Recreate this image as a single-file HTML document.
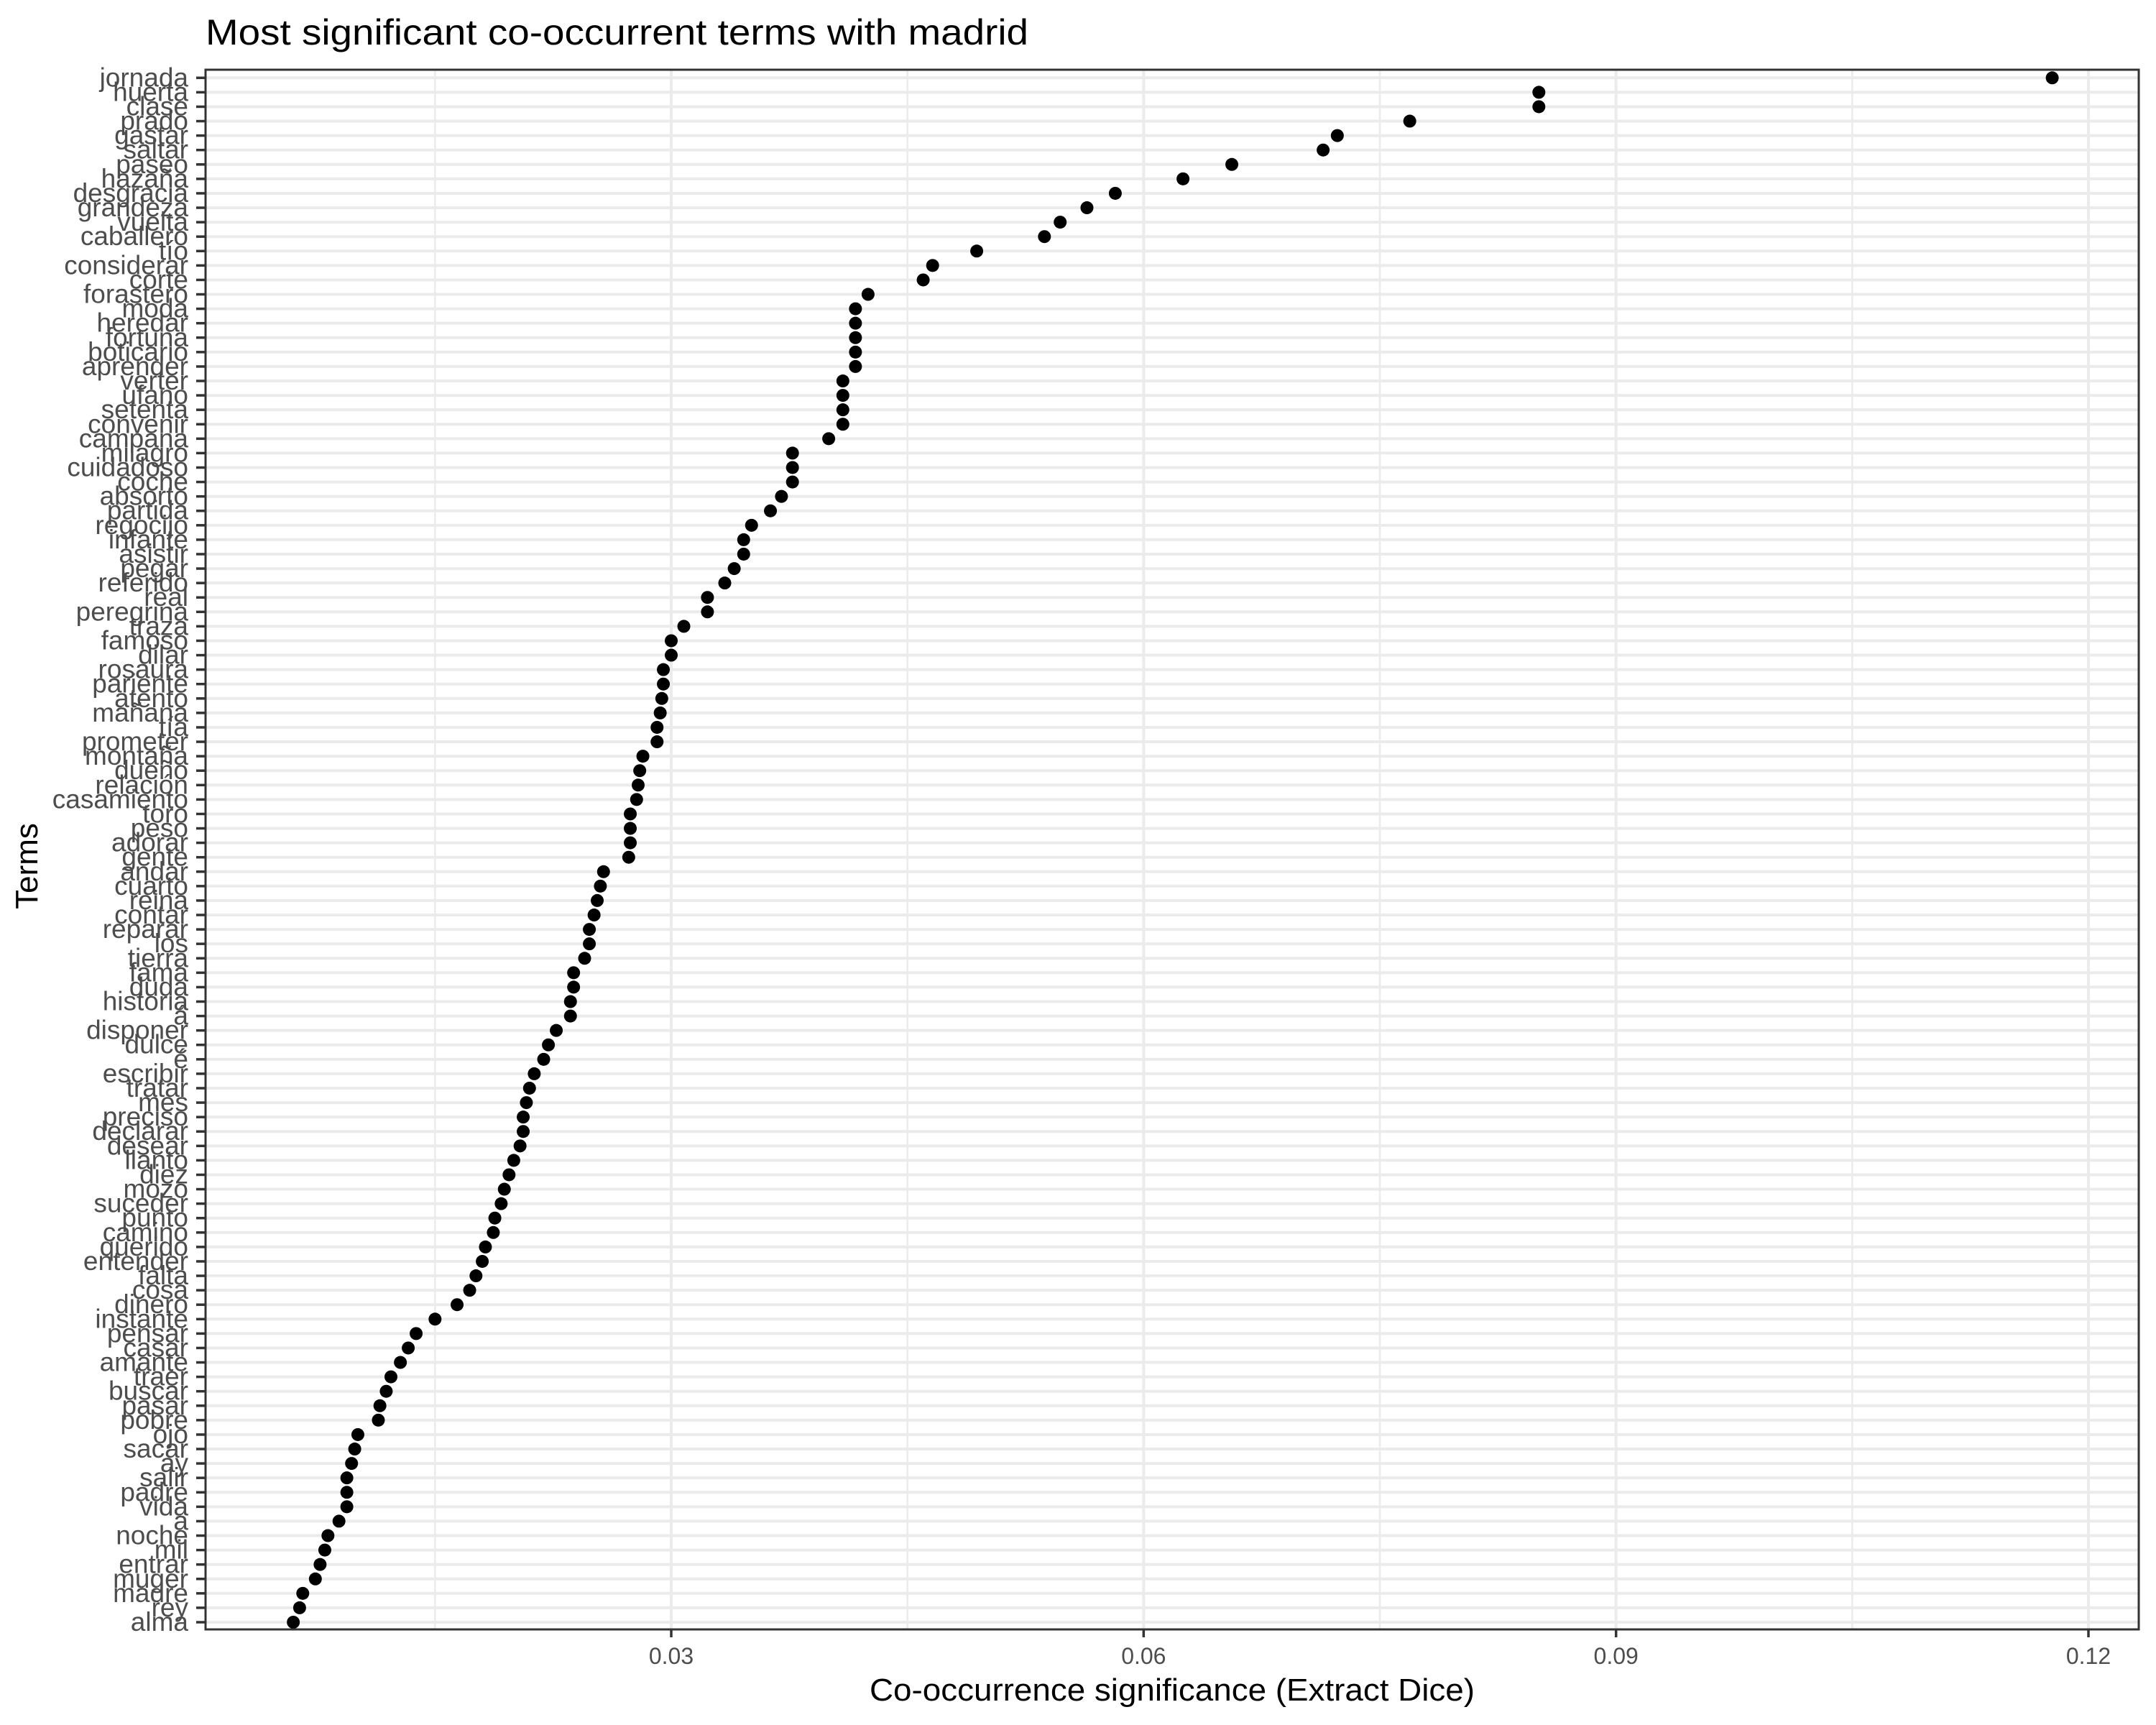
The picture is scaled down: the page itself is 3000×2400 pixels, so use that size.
<!DOCTYPE html>
<html><head><meta charset="utf-8"><style>
html,body{margin:0;padding:0;background:#fff;}
svg{display:block;font-family:"Liberation Sans",Arial,sans-serif;}
</style></head><body>
<svg id="chart" width="3000" height="2400" xmlns="http://www.w3.org/2000/svg">
<rect width="3000" height="2400" fill="#fff"/>
<text x="286" y="62" font-size="50" fill="#000" textLength="1145" lengthAdjust="spacingAndGlyphs">Most significant co-occurrent terms with madrid</text>
<g id="grid"></g>
<g id="ticks"></g>
<g id="dots"></g>
<rect x="286" y="97" width="2690" height="2170" fill="none" stroke="#333" stroke-width="3"/>
<text x="1631" y="2366" font-size="44" text-anchor="middle" fill="#000" textLength="842" lengthAdjust="spacingAndGlyphs">Co-occurrence significance (Extract Dice)</text>
<text x="0" y="0" font-size="44" text-anchor="middle" fill="#000" transform="translate(52,1205) rotate(-90)">Terms</text>
</svg>
<script>
const terms = ["jornada","huerta","clase","prado","gastar","saltar","paseo","hazaña","desgracia","grandeza","vuelta","caballero","tío","considerar","corte","forastero","moda","heredar","fortuna","boticario","aprender","verter","ufano","setenta","convenir","campana","milagro","cuidadoso","coche","absorto","partida","regocijo","infante","asistir","pegar","referido","real","peregrina","traza","famoso","dilar","rosaura","pariente","atento","mañana","tía","prometer","montaña","dueño","relación","casamiento","toro","peso","adorar","gente","andar","cuarto","reina","contar","reparar","los","tierra","fama","duda","historia","á","disponer","dulce","é","escribir","tratar","mes","preciso","declarar","desear","llanto","diez","mozo","suceder","punto","camino","querido","entender","falta","cosa","dinero","instante","pensar","casar","amante","traer","buscar","pasar","pobre","ojo","sacar","ay","salir","padre","vida","a","noche","mil","entrar","muger","madre","rey","alma"];
const values = [0.1177,0.0851,0.0851,0.0769,0.0723,0.0714,0.0656,0.0625,0.0582,0.0564,0.0547,0.0537,0.0494,0.0466,0.0460,0.0425,0.0417,0.0417,0.0417,0.0417,0.0417,0.0409,0.0409,0.0409,0.0409,0.0400,0.0377,0.0377,0.0377,0.0370,0.0363,0.0351,0.0346,0.0346,0.0340,0.0334,0.0323,0.0323,0.0308,0.0300,0.0300,0.0295,0.0295,0.0294,0.0293,0.0291,0.0291,0.0282,0.0280,0.0279,0.0278,0.0274,0.0274,0.0274,0.0273,0.0257,0.0255,0.0253,0.0251,0.0248,0.0248,0.0245,0.0238,0.0238,0.0236,0.0236,0.0227,0.0222,0.0219,0.0213,0.0210,0.0208,0.0206,0.0206,0.0204,0.0200,0.0197,0.0194,0.0192,0.0188,0.0187,0.0182,0.0180,0.0176,0.0172,0.0164,0.0150,0.0138,0.0133,0.0128,0.0122,0.0119,0.0115,0.0114,0.0101,0.0099,0.0097,0.0094,0.0094,0.0094,0.0089,0.0082,0.0080,0.0077,0.0074,0.0066,0.0064,0.0060];
const xTicks = [0.03,0.06,0.09,0.12];
const xTickLabels = ["0.03","0.06","0.09","0.12"];
const xMinor = [0.015,0.045,0.075,0.105];

const NS="http://www.w3.org/2000/svg";
const X0=934, X1=2906;
function xs(v){return X0+(v-0.03)*(X1-X0)/0.09;}
const YTOP=108.3, YBOT=2257;
function ys(i){return YTOP+i*(YBOT-YTOP)/(terms.length-1);}
function mk(tag,attrs,parent){const e=document.createElementNS(NS,tag);for(const k in attrs)e.setAttribute(k,attrs[k]);parent.appendChild(e);return e;}
const grid=document.getElementById('grid'),ticks=document.getElementById('ticks'),dots=document.getElementById('dots');
const L=286,R=2976,T=97,B=2267;
xMinor.forEach(v=>{const l=mk('line',{x1:xs(v),x2:xs(v),y1:T,y2:B,stroke:'#ebebeb','stroke-width':2.5},grid);

});
xTicks.forEach((v,i)=>{const l=mk('line',{x1:xs(v),x2:xs(v),y1:T,y2:B,stroke:'#ebebeb','stroke-width':4},grid);


const t=mk('line',{x1:xs(v),x2:xs(v),y1:B,y2:B+11,stroke:'#333','stroke-width':3.5},ticks);


const tx=mk('text',{x:xs(v),y:2315,'font-size':32,'text-anchor':'middle',fill:'#4d4d4d'},ticks);
tx.textContent=xTickLabels[i];

});
terms.forEach((term,i)=>{const y=ys(i);
const g=mk('line',{x1:L,x2:R,y1:y,y2:y,stroke:'#ebebeb','stroke-width':4},grid);


const t=mk('line',{x1:273,x2:286,y1:y,y2:y,stroke:'#333','stroke-width':3.5},ticks);


const tx=mk('text',{x:262,y:y+12,'font-size':37,'text-anchor':'end',fill:'#4d4d4d'},ticks);
tx.textContent=term;


const c=mk('circle',{cx:xs(values[i]),cy:y,r:9,fill:'#000'},dots);

});
</script>
</body></html>
